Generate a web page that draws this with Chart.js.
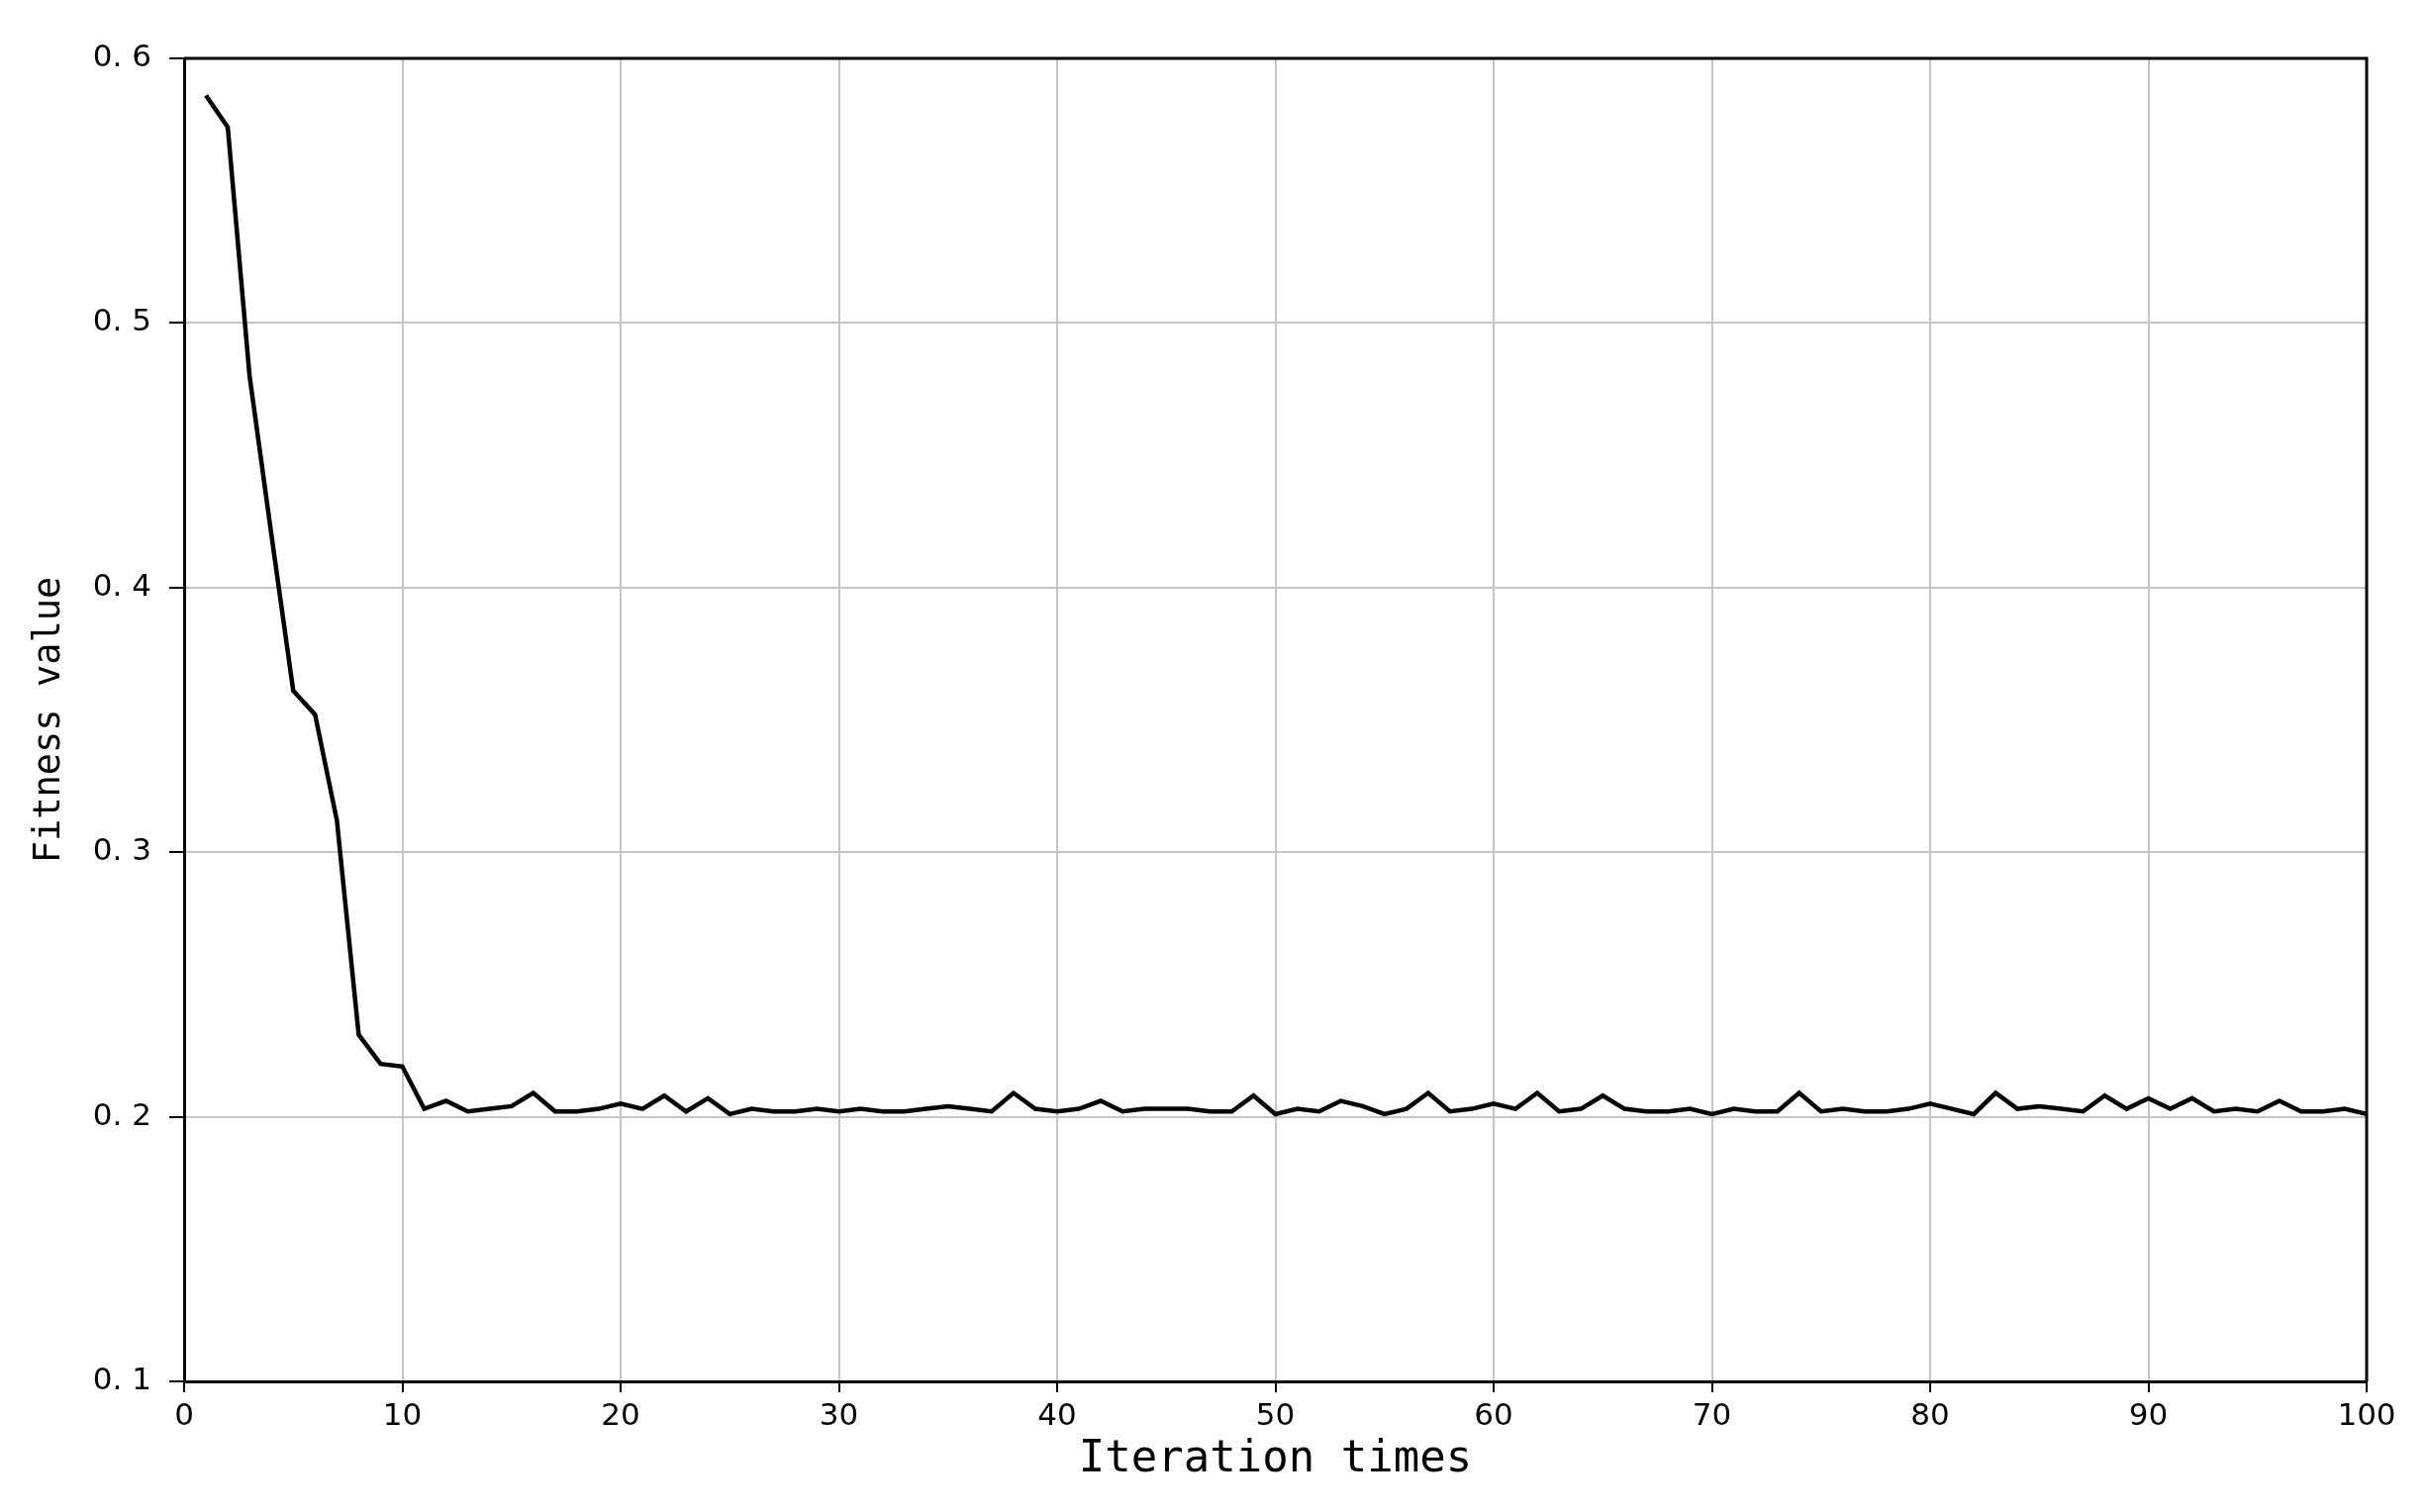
<!DOCTYPE html>
<html>
<head>
<meta charset="utf-8">
<title>Fitness value</title>
<script src="https://cdn.jsdelivr.net/npm/chart.js@4.4.0/dist/chart.umd.min.js"></script>
<style>
  html, body { margin: 0; padding: 0; background: #fff; }
  canvas { display: block; }
</style>
</head>
<body>
<canvas id="myChart" width="2455" height="1528"></canvas>
<script>
// valores (iteracion 1..100)
const fitness = [
  0.586, 0.574, 0.480, 0.420, 0.361, 0.352, 0.312, 0.231, 0.220, 0.219,
  0.203, 0.206, 0.202, 0.203, 0.204, 0.209, 0.202, 0.202, 0.203, 0.205,
  0.203, 0.208, 0.202, 0.207, 0.201, 0.203, 0.202, 0.202, 0.203, 0.202,
  0.203, 0.202, 0.202, 0.203, 0.204, 0.203, 0.202, 0.209, 0.203, 0.202,
  0.203, 0.206, 0.202, 0.203, 0.203, 0.203, 0.202, 0.202, 0.208, 0.201,
  0.203, 0.202, 0.206, 0.204, 0.201, 0.203, 0.209, 0.202, 0.203, 0.205,
  0.203, 0.209, 0.202, 0.203, 0.208, 0.203, 0.202, 0.202, 0.203, 0.201,
  0.203, 0.202, 0.202, 0.209, 0.202, 0.203, 0.202, 0.202, 0.203, 0.205,
  0.203, 0.201, 0.209, 0.203, 0.204, 0.203, 0.202, 0.208, 0.203, 0.207,
  0.203, 0.207, 0.202, 0.203, 0.202, 0.206, 0.202, 0.202, 0.203, 0.201
]
const xTicks = [0, 10, 20, 30, 40, 50, 60, 70, 80, 90, 100]
const yTicks = [0.1, 0.2, 0.3, 0.4, 0.5, 0.6]
const xTitle = 'Iteration times'
const yTitle = 'Fitness value'

const points = fitness.map((v, i) => ({ x: i + 1, y: v }))

const ctx = document.getElementById('myChart')

// marco negro arriba y a la derecha
const frame = {
  id: 'frame',
  afterDatasetsDraw(chart) {
    const { ctx, chartArea: a } = chart
    ctx.save()
    ctx.strokeStyle = '#000'
    ctx.lineWidth = 3
    ctx.beginPath()
    ctx.moveTo(a.left, a.top)
    ctx.lineTo(a.right, a.top)
    ctx.lineTo(a.right, a.bottom)
    ctx.stroke()
    ctx.restore()
  }
}

new Chart(ctx, {
  type: 'line',
  data: {
    datasets: [{
      data: points,
      borderColor: '#000',
      borderWidth: 4.5,
      pointRadius: 0,
      tension: 0,
      fill: false
    }]
  },
  options: {
    responsive: false,
    animation: false,
    layout: { padding: { left: 0, right: 64, top: 59, bottom: 0 } },
    plugins: { legend: { display: false }, tooltip: { enabled: false } },
    scales: {
      x: {
        type: 'linear',
        min: 0,
        max: 100,
        afterBuildTicks: s => { s.ticks = xTicks.map(v => ({ value: v })) },
        afterFit: s => { s.height = 132 },
        grid: { color: '#c4c4c4', lineWidth: 2, tickColor: '#000', tickLength: 11, tickWidth: 2 },
        border: { color: '#000', width: 3 },
        ticks: {
          color: '#000',
          padding: 6,
          maxRotation: 0,
          font: { family: 'DejaVu Sans', size: 31 }
        },
        title: {
          display: true,
          text: xTitle,
          color: '#000',
          padding: { top: 0, bottom: 26 },
          font: { family: 'DejaVu Sans Mono', size: 44 }
        }
      },
      y: {
        min: 0.1,
        max: 0.6,
        afterBuildTicks: s => { s.ticks = yTicks.map(v => ({ value: v })) },
        afterFit: s => { s.width = 186 },
        grid: { color: '#c4c4c4', lineWidth: 2, tickColor: '#000', tickLength: 15, tickWidth: 2 },
        border: { color: '#000', width: 3 },
        ticks: {
          color: '#000',
          padding: 18,
          font: { family: 'DejaVu Sans', size: 31 },
          callback: v => v.toFixed(1).replace('.', '. ')
        },
        title: {
          display: true,
          text: yTitle,
          color: '#000',
          padding: { top: 28, bottom: 0 },
          font: { family: 'DejaVu Sans Mono', size: 37 }
        }
      }
    }
  },
  plugins: [frame]
})
</script>
</body>
</html>
